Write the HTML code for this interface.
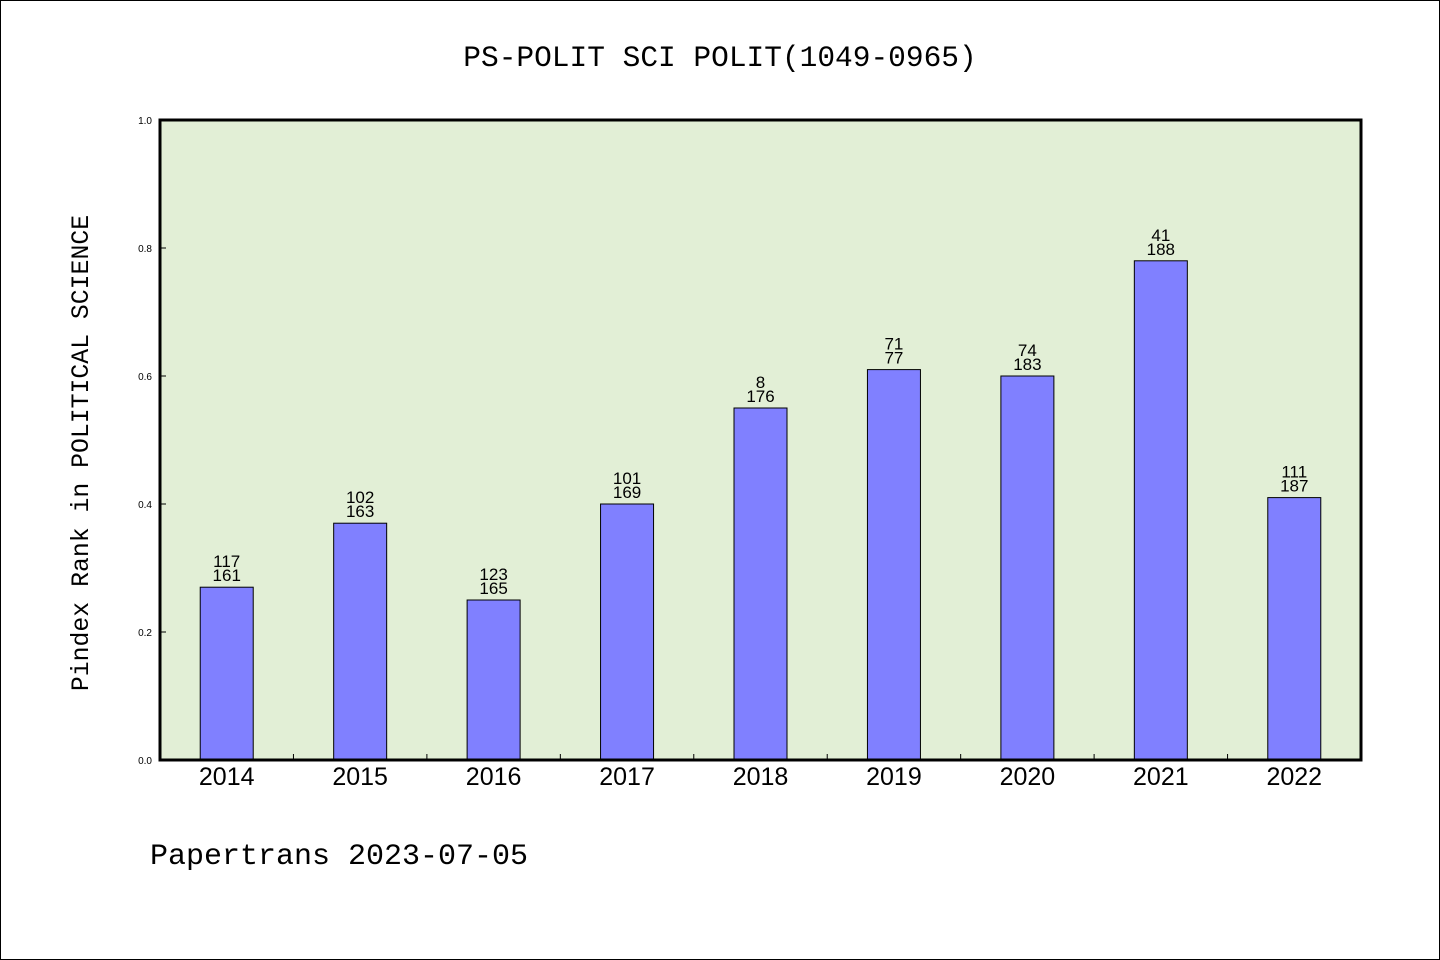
<!DOCTYPE html>
<html><head><meta charset="utf-8"><style>
html,body{margin:0;padding:0;background:#fff}
svg{display:block}
</style></head><body>
<svg id="chart" width="1440" height="960" xmlns="http://www.w3.org/2000/svg">
<rect x="0.5" y="0.5" width="1439" height="959" fill="#fff" stroke="#000" stroke-width="1"/>
<text x="720" y="66" text-anchor="middle" font-family="Liberation Mono, monospace" font-size="29.5" fill="#000">PS-POLIT SCI POLIT(1049-0965)</text>
<rect x="160" y="120" width="1201" height="640" fill="#e2efd6"/>
<g id="bars"></g>
<g id="ticks"></g>
<rect x="160" y="120" width="1201" height="640" fill="none" stroke="#000" stroke-width="3"/>
<text transform="translate(88,453) rotate(-90)" text-anchor="middle" font-family="Liberation Mono, monospace" font-size="24.8" fill="#000">Pindex Rank in POLITICAL SCIENCE</text>
<text x="150" y="864" font-family="Liberation Mono, monospace" font-size="30" fill="#000">Papertrans 2023-07-05</text>
</svg>
<script>
const categories = ['2014','2015','2016','2017','2018','2019','2020','2021','2022'];
const values = [0.27,0.37,0.25,0.40,0.55,0.61,0.60,0.78,0.41];
const topLabels = ['117','102','123','101','8','71','74','41','111'];
const bottomLabels = ['161','163','165','169','176','77','183','188','187'];
const yTicks = [0,0.2,0.4,0.6,0.8,1.0];
const yTickLabels = ['0.0','0.2','0.4','0.6','0.8','1.0'];

const NS='http://www.w3.org/2000/svg';
const X0=160,X1=1361,Y0=760,Y1=120;
const band=(X1-X0)/categories.length;
const xc=i=>X0+band*(i+0.5);
const y=v=>Y0-(v-0)/(1-0)*(Y0-Y1);
function mk(tag,attrs,parent){const e=document.createElementNS(NS,tag);for(const k in attrs)e.setAttribute(k,attrs[k]);parent.appendChild(e);return e;}
const gb=document.getElementById('bars'), gt=document.getElementById('ticks');
const bw=53;
categories.forEach((c,i)=>{
  const r=mk('rect',{x:xc(i)-bw/2,y:y(values[i]),width:bw,height:Y0-y(values[i]),fill:'#8080ff',stroke:'#000','stroke-width':1},gb);
  
  
  const t1=mk('text',{x:xc(i),y:y(values[i])-20,'text-anchor':'middle','font-family':'Liberation Sans, sans-serif','font-size':17,fill:'#000'},gb);
  t1.textContent=topLabels[i];
  
  
  const t2=mk('text',{x:xc(i),y:y(values[i])-6,'text-anchor':'middle','font-family':'Liberation Sans, sans-serif','font-size':17,fill:'#000'},gb);
  t2.textContent=bottomLabels[i];
  
  
  const xl=mk('text',{x:xc(i),y:785,'text-anchor':'middle','font-family':'Liberation Sans, sans-serif','font-size':25,fill:'#000'},gt);
  xl.textContent=c;
  
  
  if(i>0){
    const tk=mk('line',{x1:X0+band*i,x2:X0+band*i,y1:Y0,y2:Y0-6,stroke:'#000','stroke-width':1},gt);
    
    
  }
});
yTicks.forEach((v,i)=>{
  const tk=mk('line',{x1:X0,x2:X0+6,y1:y(v),y2:y(v),stroke:'#000','stroke-width':1},gt);
  
  
  const tl=mk('text',{x:X0-8,y:y(v)+4,'text-anchor':'end','font-family':'Liberation Sans, sans-serif','font-size':10,fill:'#000'},gt);
  tl.textContent=yTickLabels[i];
  
  
});
</script>
</body></html>
